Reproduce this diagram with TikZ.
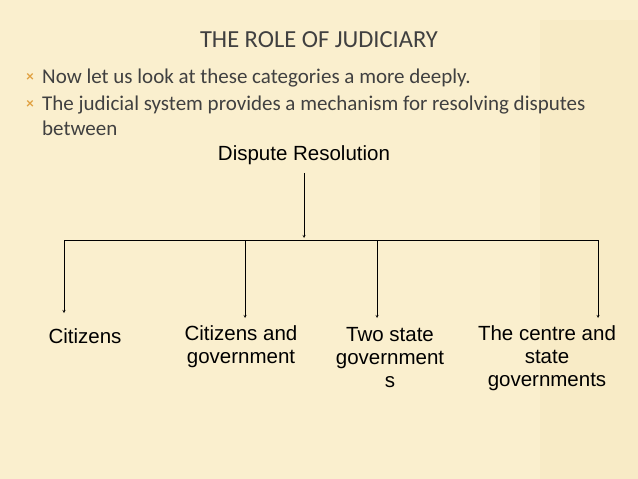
\documentclass[tikz,border=0pt]{standalone}
\usepackage{fontspec}
\setmainfont{Carlito}
\newfontfamily\arial{Liberation Sans}
\definecolor{bg}{RGB}{250,239,206}
\definecolor{bgd}{RGB}{244,226,176}
\definecolor{bul}{RGB}{224,160,64}
\definecolor{txt}{RGB}{64,64,64}
\begin{document}
\begin{tikzpicture}[x=1pt,y=-1pt,
  lab/.style={font=\arial\fontsize{20.5}{23}\selectfont,align=center,text=black,inner sep=0},
  body/.style={font=\fontsize{21}{24}\selectfont,text=txt,anchor=west,inner sep=0},
  bx/.style={font=\fontsize{15}{15}\selectfont\bfseries,text=bul,inner sep=0},
  arr/.style={->,>=stealth,thin,black}]
\useasboundingbox (0,0) rectangle (638,479);
\fill[bg] (0,0) rectangle (638,479);
\fill[bgd,opacity=0.25] (540,20) rectangle (638,479);
\node[font=\fontsize{24.5}{28}\selectfont,text=txt] (title) at (319,40) {THE ROLE OF JUDICIARY};
\node[bx] (b1) at (30,78) {×};
\node[body] (t1) at (42,78) {Now let us look at these categories a more deeply.};
\node[bx] (b2) at (30,105) {×};
\node[body] (t2) at (42,105) {The judicial system provides a mechanism for resolving disputes};
\node[body] (t3) at (42,128) {between};
\node[lab] (dr) at (304,155) {Dispute Resolution};
\coordinate (j) at (304,240);
\coordinate (l) at (64,240);
\coordinate (r) at (598,240);
\coordinate (c2) at (245,240);
\coordinate (c3) at (377,240);
\coordinate (e1) at (64,313);
\coordinate (e2) at (245,318);
\coordinate (e3) at (377,318);
\coordinate (e4) at (598,318);
\draw[arr] ([yshift=-8pt]dr.south) -- ([yshift=2pt]j);
\draw[thin] (l) -- (r);
\draw[arr] (l) -- (e1);
\draw[arr] (c2) -- (e2);
\draw[arr] (c3) -- (e3);
\draw[arr] (r) -- (e4);
\node[lab] (n1) at (85,336) {Citizens};
\node[lab] (n2) at (241,347) {Citizens and\\government};
\node[lab] (n3) at (390,358) {Two state\\government\\s};
\node[lab] (n4) at (547,358) {The centre and\\state\\governments};
\end{tikzpicture}
\end{document}
